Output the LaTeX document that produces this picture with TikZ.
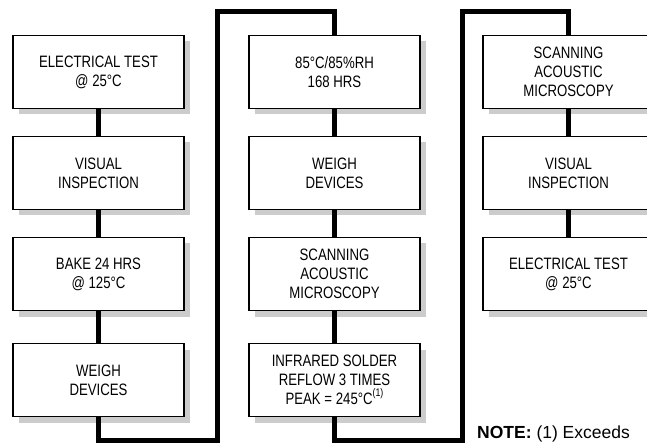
\documentclass[tikz,border=0pt]{standalone}
\usepackage{fontspec}
\setmainfont{Liberation Sans}
\newfontfamily\boxfont{Liberation Sans}[FakeStretch=0.80]
\usetikzlibrary{shadows,calc}
\begin{document}
\begin{tikzpicture}[x=1pt,y=-1pt,
  stepbox/.style={draw=black, line width=1.6pt, fill=white,
    minimum width=171pt, minimum height=73pt, inner sep=0pt,
    align=center, font=\boxfont\fontsize{16.5}{19}\selectfont,
    drop shadow={shadow xshift=6pt, shadow yshift=-6pt, fill=black!20, opacity=1}},
  conn/.style={line width=5pt, draw=black, line join=miter},
  notetext/.style={font=\fontsize{17.5}{20}\selectfont, inner sep=0pt, anchor=base west}]
\useasboundingbox (0,0) rectangle (647,443);
\clip (0,0) rectangle (647,443);
% column 1
\node[stepbox] (a1) at (98.5,72)  {ELECTRICAL TEST\\@ 25°C};
\node[stepbox] (a2) at (98.5,173) {VISUAL\\INSPECTION};
\node[stepbox] (a3) at (98.5,274) {BAKE 24 HRS\\@ 125°C};
\node[stepbox] (a4) at (98.5,380) {WEIGH\\DEVICES};
% column 2
\node[stepbox] (b1) at (334.5,72)  {85°C/85\%RH\\168 HRS};
\node[stepbox] (b2) at (334.5,173) {WEIGH\\DEVICES};
\node[stepbox] (b3) at (334.5,274) {SCANNING\\ACOUSTIC\\MICROSCOPY};
\node[stepbox] (b4) at (334.5,380) {INFRARED SOLDER\\REFLOW 3 TIMES\\PEAK = 245°C\raisebox{0.5em}{\fontsize{11}{11}\selectfont(1)}};
% column 3
\node[stepbox] (c1) at (568.5,72)  {SCANNING\\ACOUSTIC\\MICROSCOPY};
\node[stepbox] (c2) at (568.5,173) {VISUAL\\INSPECTION};
\node[stepbox] (c3) at (568.5,274) {ELECTRICAL TEST\\@ 25°C};
% loop corners
\coordinate (l1b) at (217,440);
\coordinate (l1t) at (217,12);
\coordinate (l2b) at (462,440);
\coordinate (l2t) at (462,12);
% connectors
\draw[conn] (a1.south) -- (a2.north);
\draw[conn] (a2.south) -- (a3.north);
\draw[conn] (a3.south) -- (a4.north);
\draw[conn] (a4.south) |- (l1b) -- (l1t) -| (b1.north);
\draw[conn] (b1.south) -- (b2.north);
\draw[conn] (b2.south) -- (b3.north);
\draw[conn] (b3.south) -- (b4.north);
\draw[conn] (b4.south) |- (l2b) -- (l2t) -| (c1.north);
\draw[conn] (c1.south) -- (c2.north);
\draw[conn] (c2.south) -- (c3.north);
% note
\node[notetext] (note) at (477,438.5) {\textbf{NOTE:} (1) Exceeds};
\end{tikzpicture}
\end{document}
